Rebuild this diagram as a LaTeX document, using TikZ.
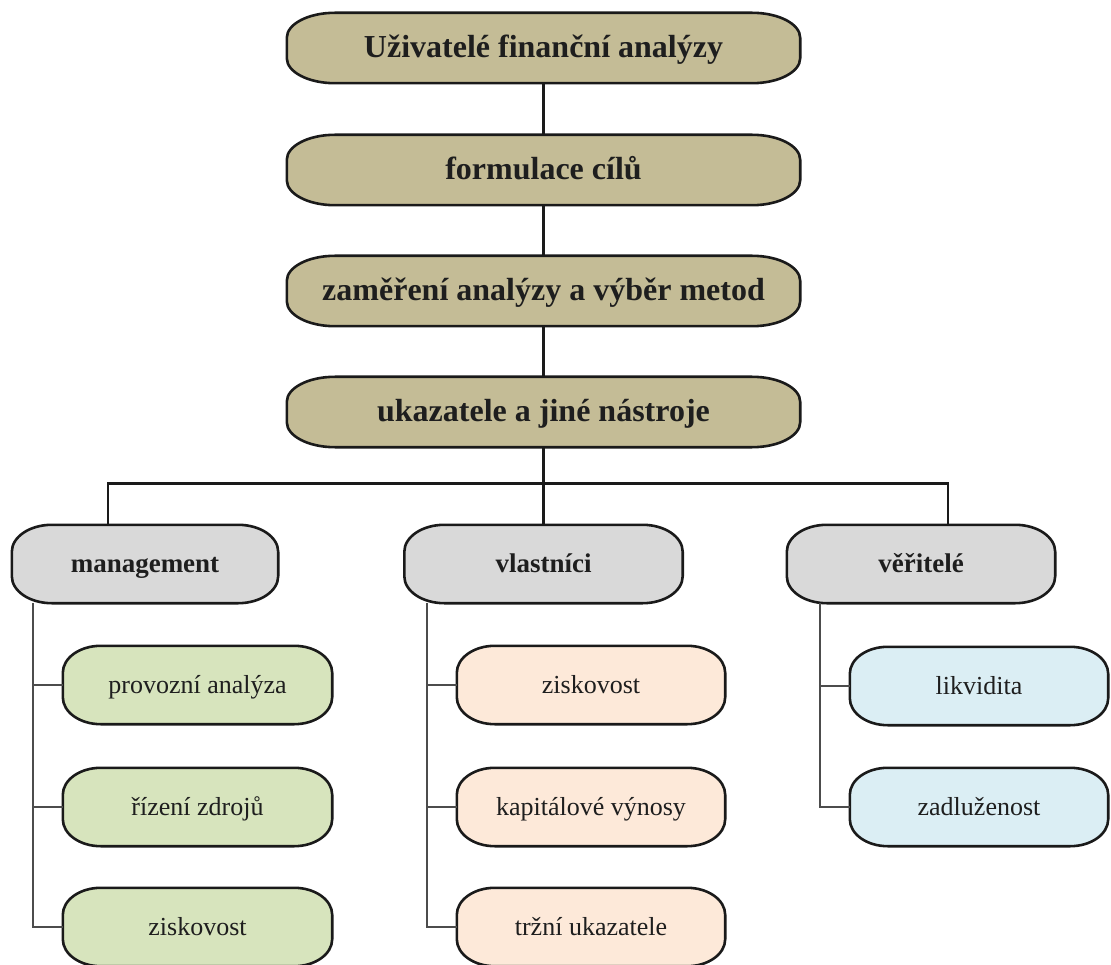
\documentclass[tikz,border=0pt]{standalone}
\usepackage{fontspec}
\setmainfont{Liberation Serif}
\usetikzlibrary{calc}
\pgfdeclarelayer{background}
\pgfsetlayers{background,main}
\definecolor{tanfill}{HTML}{C4BC96}
\definecolor{grayfill}{HTML}{D9D9D9}
\definecolor{greenfill}{HTML}{D7E4BD}
\definecolor{peachfill}{HTML}{FDE9D9}
\definecolor{bluefill}{HTML}{DBEEF4}
\definecolor{edge}{HTML}{1A1A1A}
\definecolor{txt}{HTML}{1E1E1E}
\tikzset{
  box/.style={inner sep=0pt, text=txt},
  topbox/.style={box, minimum width=513pt, minimum height=70pt,
    text height=25pt, text depth=6.4pt,
    font=\fontsize{32}{38}\selectfont\bfseries},
  grpbox/.style={box, minimum height=78pt,
    text height=22pt, text depth=5.4pt,
    font=\fontsize{27}{32}\selectfont\bfseries},
  leaf/.style={box, minimum height=78pt,
    text height=22pt, text depth=5.2pt,
    font=\fontsize{26}{31}\selectfont},
  gbox/.style={leaf, minimum width=269pt},
  pbox/.style={leaf, minimum width=268pt},
  bbox/.style={leaf, minimum width=258pt},
  outline/.style={draw=edge, line width=2.6pt, line join=round},
  mainline/.style={draw=edge, line width=2.8pt},
  subline/.style={draw=black!70, line width=2pt}
}
% elliptic-cornered outline behind node #1: rx=#2, ry=#3, fill=#4
\newcommand\ovalframe[4]{%
  \begin{pgfonlayer}{background}
  \path[outline, fill=#4]
    ($(#1.north west)+(#2pt,0)$) -- ($(#1.north east)+(-#2pt,0)$)
    arc[start angle=90, end angle=0, x radius=#2pt, y radius=#3pt]
    -- ($(#1.south east)+(0,#3pt)$)
    arc[start angle=0, end angle=-90, x radius=#2pt, y radius=#3pt]
    -- ($(#1.south west)+(#2pt,0)$)
    arc[start angle=270, end angle=180, x radius=#2pt, y radius=#3pt]
    -- ($(#1.north west)+(0,-#3pt)$)
    arc[start angle=180, end angle=90, x radius=#2pt, y radius=#3pt]
    -- cycle;
  \end{pgfonlayer}}
\begin{document}
\begin{tikzpicture}[x=1pt, y=-1pt]
\useasboundingbox (0,0) rectangle (1111,965);

% top chain
\node[topbox] (t1) at (543.5,48) {Uživatelé finanční analýzy};
\node[topbox] (t2) at (543.5,170) {formulace cílů};
\node[topbox] (t3) at (543.5,291) {zaměření analýzy a výběr metod};
\node[topbox] (t4) at (543.5,412) {ukazatele a jiné nástroje};
\foreach \n in {t1,t2,t3,t4} {\ovalframe{\n}{48}{25}{tanfill}}

% groups
\node[grpbox, minimum width=266pt] (mg) at (145,564) {management};
\node[grpbox, minimum width=278pt] (vl) at (543.5,564) {vlastníci};
\node[grpbox, minimum width=268pt] (vr) at (921,564) {věřitelé};
\foreach \n in {mg,vl,vr} {\ovalframe{\n}{40}{27}{grayfill}}

% leaves
\node[gbox] (g1) at (197.5,685) {provozní analýza};
\node[gbox] (g2) at (197.5,807) {řízení zdrojů};
\node[gbox] (g3) at (197.5,927) {ziskovost};
\foreach \n in {g1,g2,g3} {\ovalframe{\n}{38}{27}{greenfill}}

\node[pbox] (p1) at (591,685) {ziskovost};
\node[pbox] (p2) at (591,807) {kapitálové výnosy};
\node[pbox] (p3) at (591,927) {tržní ukazatele};
\foreach \n in {p1,p2,p3} {\ovalframe{\n}{38}{27}{peachfill}}

\node[bbox] (b1) at (979,686) {likvidita};
\node[bbox] (b2) at (979,807) {zadluženost};
\foreach \n in {b1,b2} {\ovalframe{\n}{38}{27}{bluefill}}

% connector points
\coordinate (bus) at ($(t4.south)+(0,36)$);
\coordinate (mgin) at ($(mg.north)+(-37,0)$);
\coordinate (vrin) at ($(vr.north)+(27,0)$);
\coordinate (mgout) at ($(mg.south)+(-112,0)$);
\coordinate (vlout) at ($(vl.south)+(-117,0)$);
\coordinate (vrout) at ($(vr.south)+(-101,0)$);

\begin{pgfonlayer}{background}
% main connectors
\draw[mainline] (t1.south) -- (t2.north);
\draw[mainline] (t2.south) -- (t3.north);
\draw[mainline] (t3.south) -- (t4.north);
\draw[mainline] (t4.south) -- (bus);
\draw[mainline] (bus) -| (mgin);
\draw[mainline] (bus) -| (vrin);
\draw[mainline] (bus) -- (vl.north);

% sub connectors
\draw[subline] (mgout) |- (g3.west);
\draw[subline] (g1.west) -- (g1.west -| mgout);
\draw[subline] (g2.west) -- (g2.west -| mgout);

\draw[subline] (vlout) |- (p3.west);
\draw[subline] (p1.west) -- (p1.west -| vlout);
\draw[subline] (p2.west) -- (p2.west -| vlout);

\draw[subline] (vrout) |- (b2.west);
\draw[subline] (b1.west) -- (b1.west -| vrout);
\end{pgfonlayer}
\end{tikzpicture}
\end{document}
